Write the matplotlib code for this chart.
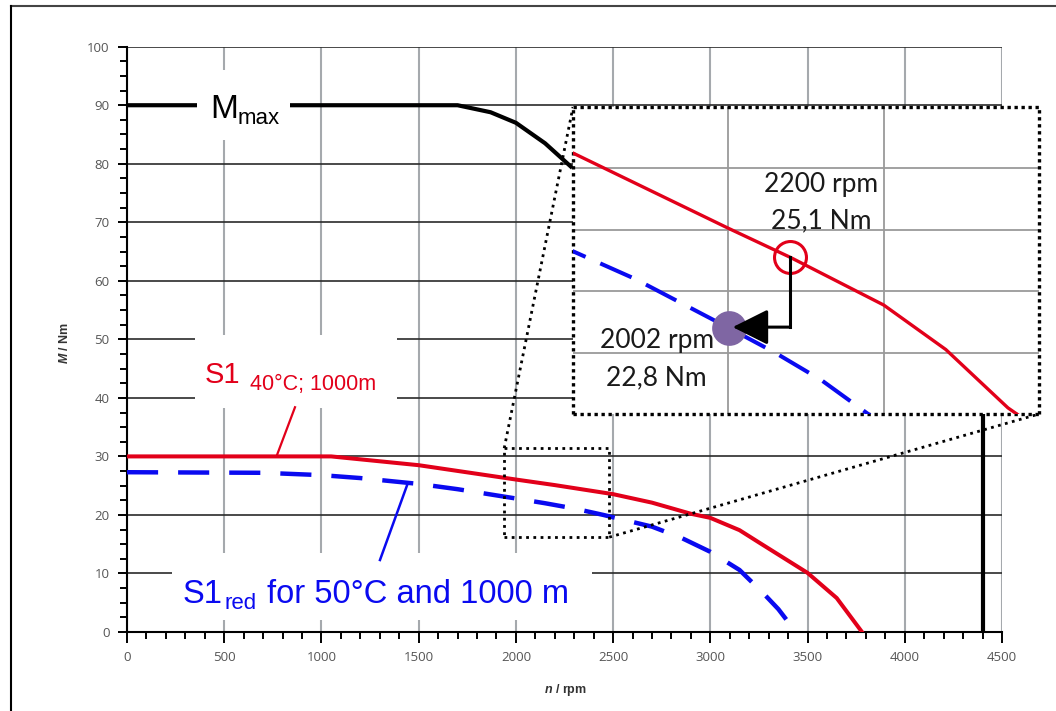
import matplotlib
matplotlib.use('Agg')
import matplotlib.pyplot as plt
from matplotlib.patches import Rectangle, ConnectionPatch
from matplotlib.lines import Line2D
from matplotlib.ticker import MultipleLocator

plt.rcParams['font.family'] = ['Open Sans', 'DejaVu Sans']
plt.rcParams['mathtext.fontset'] = 'custom'
plt.rcParams['mathtext.it'] = 'Liberation Sans:italic:bold'
plt.rcParams['mathtext.rm'] = 'Liberation Sans:bold'

# ---------------- data ----------------
mmax_n = [0, 1700, 1870, 2000, 2150, 2290]
mmax_M = [90, 90, 88.8, 87.0, 83.5, 79.3]

s1_n = [0, 1050, 1500, 2000, 2200, 2500, 2700, 2900, 3000, 3150, 3250, 3500, 3650, 3780]
s1_M = [30, 30, 28.5, 26.05, 25.1, 23.55, 22.1, 20.2, 19.5, 17.4, 15.3, 10.1, 5.8, 0]

s1red_n = [0, 700, 1000, 1200, 1500, 1700, 2002, 2150, 2300, 2450, 2700, 2850, 3000, 3150, 3270, 3350, 3440]
s1red_M = [27.3, 27.2, 26.8, 26.3, 25.3, 24.4, 22.8, 22.0, 21.1, 20.0, 18.0, 16.1, 13.7, 10.6, 6.7, 3.9, 0]

nmax_n = [4400, 4400]
nmax_M = [0, 40]

op_n = [2200, 2002]
op_M = [25.1, 22.8]
op_rpm = ['2200 rpm', '2002 rpm']
op_nm = ['25,1 Nm', '22,8 Nm']

x_ticks = list(range(0, 4501, 500))
y_ticks = list(range(0, 101, 10))

zoom_n = [1940, 2480]
zoom_M = [16.2, 31.4]
inset_n = [1500, 3000]
inset_M = [20, 30]
inset_xgrid = [2000, 2500]
inset_ygrid = [22, 24, 26, 28]

RED = '#E2001A'
BLUE = '#0A0AF0'
PURPLE = '#7F66A3'

W, H = 1056, 711
def fy(py):
    return 1 - py / H

fig = plt.figure(figsize=(W / 100, H / 100), dpi=100)

# ---------------- main axes ----------------
ax = fig.add_axes([127 / W, fy(632), 875 / W, (632 - 46.7) / H])
ax.set_xlim(0, 4500)
ax.set_ylim(0, 100)
ax.set_xticks(x_ticks)
ax.set_yticks(y_ticks)
ax.xaxis.set_minor_locator(MultipleLocator(100))
ax.yaxis.set_minor_locator(MultipleLocator(2.5))
for s in ['top', 'right']:
    ax.spines[s].set_visible(False)
for s in ['left', 'bottom']:
    ax.spines[s].set_linewidth(1.5)
    ax.spines[s].set_color('black')
ax.set_axisbelow(True)
ax.xaxis.grid(True, which='major', color='#a5a9ad', lw=1.5)
ax.yaxis.grid(True, which='major', color='#2a2a2a', lw=1.2)
ax.tick_params(axis='x', which='major', direction='out', length=8, width=1.4, pad=6,
               labelsize=9.5, labelcolor='#555555')
ax.tick_params(axis='x', which='minor', direction='out', length=5, width=1.4)
ax.tick_params(axis='y', which='major', direction='out', length=6.5, width=1.4, pad=6,
               labelsize=9.5, labelcolor='#555555')
ax.tick_params(axis='y', which='minor', direction='out', length=5, width=1.4)

# white masks behind labels
ax.add_patch(Rectangle((360, 84.1), 478, 11.9, fc='white', ec='none', zorder=2.5))
ax.add_patch(Rectangle((350, 38.3), 1039, 12.4, fc='white', ec='none', zorder=1))
ax.add_patch(Rectangle((231, 2.05), 2160, 11.45, fc='white', ec='none', zorder=1))

# curves
ax.plot(mmax_n, mmax_M, color='black', lw=3, zorder=2, solid_capstyle='butt')
ax.plot(s1_n, s1_M, color=RED, lw=2.9, zorder=3)
ax.plot(s1red_n, s1red_M, color=BLUE, lw=3.2, dashes=(7, 4.5), zorder=3)
ax.plot(nmax_n, nmax_M, color='black', lw=3, zorder=2)

# leader lines
ax.plot([771, 864], [30.2, 38.4], color=RED, lw=1.6, zorder=3)
ax.plot([1301, 1445], [12.3, 25.5], color=BLUE, lw=1.8, zorder=3)

# labels
LF = 'Liberation Sans'
ax.text(427, 87.8, 'M', fontsize=24, family=LF, ha='left', va='baseline', zorder=4)
ax.text(571, 86.8, 'max', fontsize=16, family=LF, ha='left', va='baseline', zorder=4)
ax.text(401, 42.5, 'S1', fontsize=21, family=LF, color=RED, ha='left', va='baseline', zorder=4)
ax.text(633, 41.3, '40°C; 1000m', fontsize=15.5, family=LF, color=RED, ha='left', va='baseline', zorder=4)
ax.text(288, 4.95, 'S1', fontsize=23.5, family=LF, color=BLUE, ha='left', va='baseline', zorder=4)
ax.text(504, 3.9, 'red', fontsize=16, family=LF, color=BLUE, ha='left', va='baseline', zorder=4)
ax.text(720, 4.95, 'for 50°C and 1000 m', fontsize=23.5, family=LF, color=BLUE,
        ha='left', va='baseline', zorder=4)

# zoom rectangle
DOT = (0, (1, 1.6))
ax.add_patch(Rectangle((zoom_n[0], zoom_M[0]), zoom_n[1] - zoom_n[0], zoom_M[1] - zoom_M[0],
                       fill=False, ec='black', lw=2.0, ls=DOT, capstyle='butt', zorder=4))

# ---------------- inset ----------------
axin = fig.add_axes([573 / W, fy(414), 466 / W, 307 / H], zorder=5)
axin.set_facecolor('white')
axin.set_xlim(*inset_n)
axin.set_ylim(*inset_M)
axin.set_xticks(inset_xgrid)
axin.set_yticks(inset_ygrid)
axin.tick_params(length=0, labelbottom=False, labelleft=False)
axin.grid(True, color='#9a9a9a', lw=1.3)
axin.set_axisbelow(True)
for s in axin.spines.values():
    s.set_linestyle((0, (1, 1.1)))
    s.set_linewidth(2.4)
    s.set_color('black')
    s.set_capstyle('butt')

axin.plot(s1_n, s1_M, color=RED, lw=2.4, zorder=3)
axin.plot(s1red_n, s1red_M, color=BLUE, lw=2.9, dashes=(8.5, 4), zorder=3)
axin.plot(op_n[1], op_M[1], 'o', ms=25, color=PURPLE, mew=0, zorder=4)
axin.plot(op_n[0], op_M[0], 'o', ms=23, mfc='none', mec=RED, mew=2.2, zorder=5)
arrow_M = op_M[1] + 0.03
axin.plot([op_n[0], op_n[0]], [op_M[0], arrow_M], color='black', lw=2.2, zorder=6,
          solid_capstyle='projecting')
axin.annotate('', xy=(op_n[1] + 12, arrow_M), xytext=(op_n[0], arrow_M),
              arrowprops=dict(arrowstyle='-|>,head_length=1.1,head_width=0.55', color='black',
                              lw=2.2, mutation_scale=20, shrinkA=0, shrinkB=0), zorder=6)

IF = 'Lato'
axin.text(2300, 27.23, op_rpm[0], fontsize=19, family=IF, color='#1a1a1a', ha='center', va='baseline', zorder=7)
axin.text(2300, 26.06, op_nm[0], fontsize=19, family=IF, color='#1a1a1a', ha='center', va='baseline', zorder=7)
axin.text(1769, 22.15, op_rpm[1], fontsize=19, family=IF, color='#1a1a1a', ha='center', va='baseline', zorder=7)
axin.text(1769, 20.94, op_nm[1], fontsize=19, family=IF, color='#1a1a1a', ha='center', va='baseline', zorder=7)

# connectors
for xyA, xyB in [((zoom_n[0], zoom_M[1]), (0, 1)), ((zoom_n[1], zoom_M[0]), (1, 0))]:
    con = ConnectionPatch(xyA=xyA, coordsA=ax.transData, xyB=xyB, coordsB=axin.transAxes,
                          color='black', lw=2.0, ls=DOT, capstyle='butt', zorder=3)
    fig.add_artist(con)

# axis labels
fig.text(565 / W, fy(690), r'$n$ / rpm', ha='center', va='center', fontsize=9,
         fontweight='bold', family=LF, color='#333333')
fig.text(65 / W, fy(343), r'$M$ / Nm', ha='center', va='center', fontsize=9, rotation=90,
         fontweight='bold', family=LF, color='#333333')

# outer frame
fig.add_artist(Line2D([11 / W, 1], [fy(6), fy(6)], transform=fig.transFigure, color='#444444', lw=1.5))
fig.add_artist(Line2D([11 / W, 11 / W], [fy(6), 0], transform=fig.transFigure, color='black', lw=1.5))

fig.savefig('out.png', dpi=100)
